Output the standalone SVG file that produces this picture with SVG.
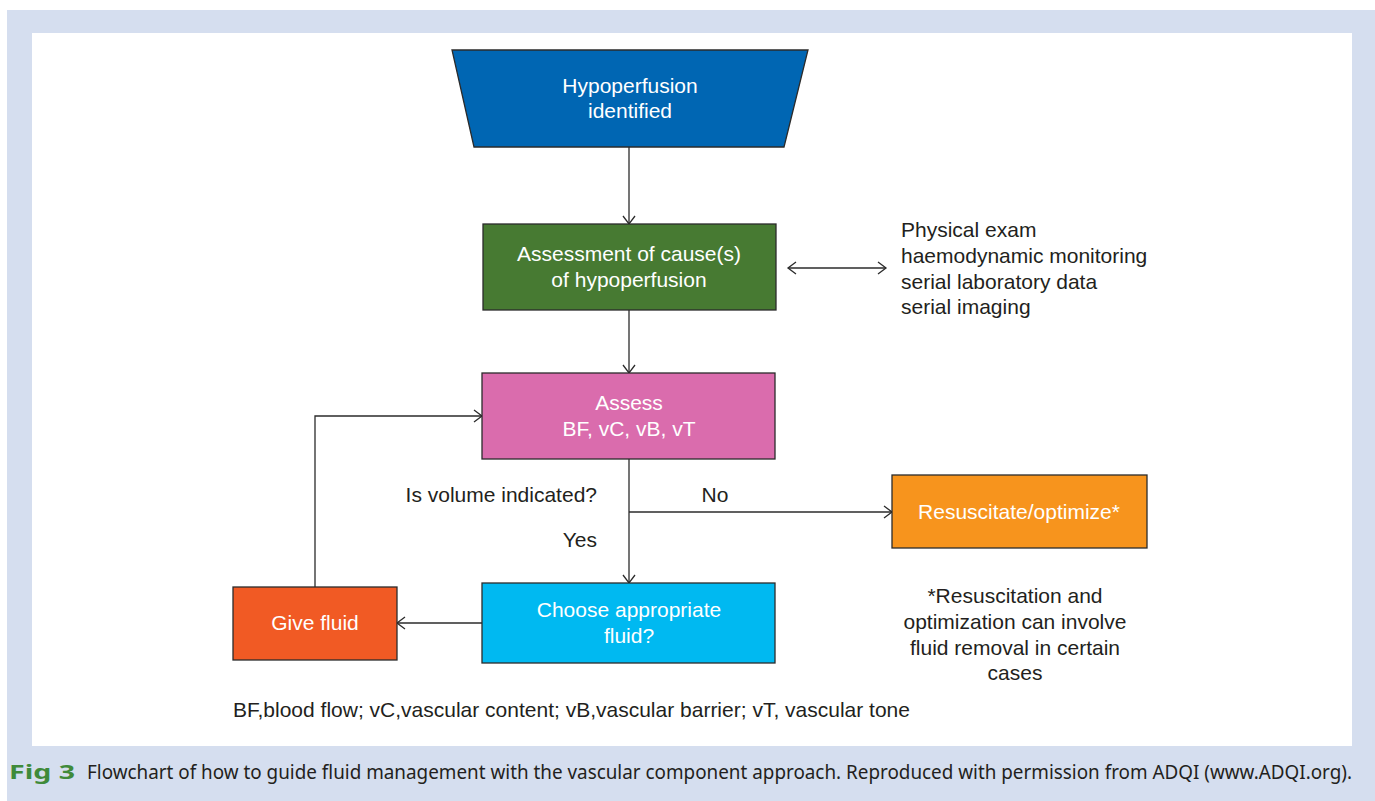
<svg xmlns="http://www.w3.org/2000/svg" width="1375" height="801" viewBox="0 0 1375 801">
<style>
.node{stroke:#2b2b2b;stroke-width:1.3}
.lbl{font-family:"Liberation Sans",Arial,sans-serif;font-size:21px;fill:#ffffff;text-anchor:middle}
.txt{font-family:"Liberation Sans",Arial,sans-serif;font-size:21px;fill:#231f20}
.cap{font-family:"Noto Sans","Open Sans",sans-serif;font-size:19px;fill:#231f20}
.ln{stroke:#2b2b2b;stroke-width:1.3;fill:none}
</style>
<defs>
<marker id="ah" markerUnits="userSpaceOnUse" markerWidth="12" markerHeight="14" refX="9" refY="7" orient="auto-start-reverse">
<path d="M1,1 L9,7 L1,13" fill="none" stroke="#2b2b2b" stroke-width="1.3"/>
</marker>
</defs>
<rect x="0" y="0" width="1375" height="801" fill="#ffffff"/>
<rect x="7" y="10" width="1368" height="791" fill="#d5deef"/>
<rect x="32" y="33" width="1320" height="713" fill="#ffffff"/>

<g id="connectors">
<line class="ln" x1="629" y1="147" x2="629" y2="224" marker-end="url(#ah)"/>
<line class="ln" x1="788" y1="268" x2="886" y2="268" marker-start="url(#ah)" marker-end="url(#ah)"/>
<line class="ln" x1="629" y1="310" x2="629" y2="373" marker-end="url(#ah)"/>
<line class="ln" x1="629" y1="459" x2="629" y2="583" marker-end="url(#ah)"/>
<line class="ln" x1="629" y1="512" x2="892" y2="512" marker-end="url(#ah)"/>
<line class="ln" x1="482" y1="623" x2="397" y2="623" marker-end="url(#ah)"/>
<polyline class="ln" points="315,587 315,416 482,416" marker-end="url(#ah)"/>
</g>

<g id="node-hypoperfusion">
<polygon class="node" points="452,50 808,50 784,147 474,147" fill="#0066b3"/>
<text class="lbl" x="630" y="93">Hypoperfusion</text>
<text class="lbl" x="630" y="118">identified</text>
</g>

<g id="node-assessment">
<rect class="node" x="483" y="224" width="293" height="86" fill="#477a32"/>
<text class="lbl" x="629" y="261">Assessment of cause(s)</text>
<text class="lbl" x="629" y="287">of hypoperfusion</text>
</g>

<g id="node-sources">
<text class="txt" x="901" y="237">Physical exam</text>
<text class="txt" x="901" y="263">haemodynamic monitoring</text>
<text class="txt" x="901" y="289">serial laboratory data</text>
<text class="txt" x="901" y="314">serial imaging</text>
</g>

<g id="node-assess">
<rect class="node" x="482" y="373" width="293" height="86" fill="#da6cad"/>
<text class="lbl" x="629" y="410">Assess</text>
<text class="lbl" x="629" y="436">BF, vC, vB, vT</text>
</g>

<g id="labels">
<text class="txt" x="597" y="502" text-anchor="end">Is volume indicated?</text>
<text class="txt" x="715" y="502" text-anchor="middle">No</text>
<text class="txt" x="597" y="547" text-anchor="end">Yes</text>
</g>

<g id="node-resuscitate">
<rect class="node" x="892" y="475" width="255" height="73" fill="#f7941d"/>
<text class="lbl" x="1019" y="519">Resuscitate/optimize*</text>
</g>

<g id="node-footnote">
<text class="txt" x="1015" y="603" text-anchor="middle">*Resuscitation and</text>
<text class="txt" x="1015" y="629" text-anchor="middle">optimization can involve</text>
<text class="txt" x="1015" y="655" text-anchor="middle">fluid removal in certain</text>
<text class="txt" x="1015" y="680" text-anchor="middle">cases</text>
</g>

<g id="node-choose">
<rect class="node" x="482" y="583" width="293" height="80" fill="#00b9f1"/>
<text class="lbl" x="629" y="617">Choose appropriate</text>
<text class="lbl" x="629" y="643">fluid?</text>
</g>

<g id="node-givefluid">
<rect class="node" x="233" y="587" width="164" height="73" fill="#f15a24"/>
<text class="lbl" x="315" y="630">Give fluid</text>
</g>

<g id="legend">
<text class="txt" x="233" y="717">BF,blood flow; vC,vascular content; vB,vascular barrier; vT, vascular tone</text>
</g>

<g id="caption">
<text x="9" y="779" font-family="'Noto Sans','Open Sans',sans-serif" font-size="20" font-weight="bold" fill="#3f8a3a" textLength="66" lengthAdjust="spacingAndGlyphs">Fig 3</text>
<text class="cap" x="87" y="779" textLength="1265" lengthAdjust="spacingAndGlyphs">Flowchart of how to guide fluid management with the vascular component approach. Reproduced with permission from ADQI (www.ADQI.org).</text>
</g>
</svg>
